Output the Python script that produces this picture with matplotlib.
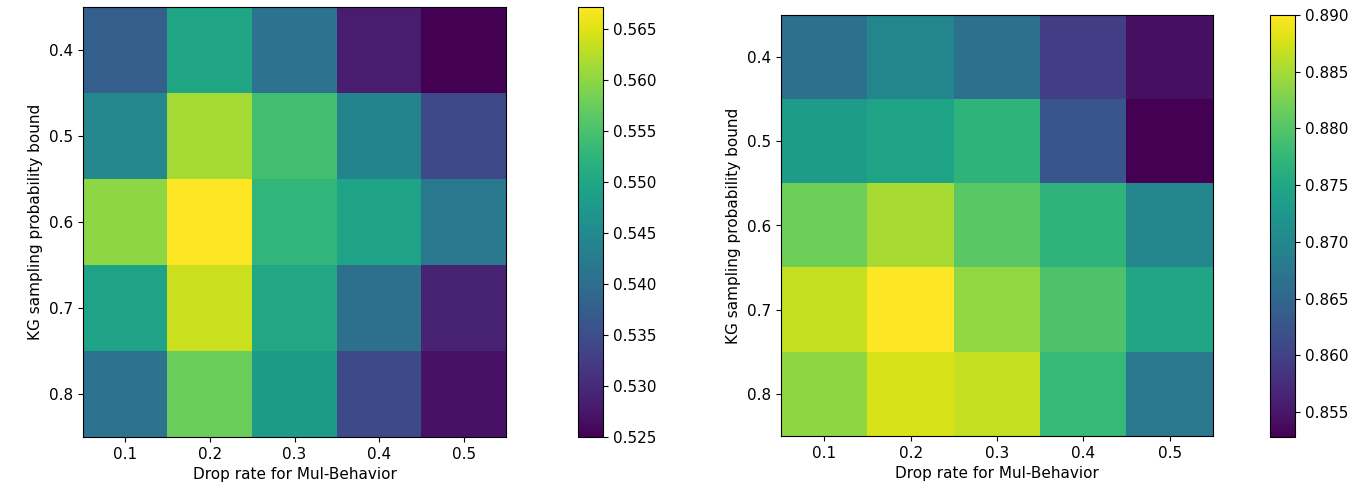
import matplotlib
matplotlib.use("Agg")
import matplotlib.pyplot as plt
import numpy as np

drop_rates = ["0.1", "0.2", "0.3", "0.4", "0.5"]
kg_bounds = ["0.4", "0.5", "0.6", "0.7", "0.8"]

# rows: KG bound 0.4..0.8, cols: drop rate 0.1..0.5
left_vals = [
  [0.5377, 0.5500, 0.5410, 0.5284, 0.5250],
  [0.5448, 0.5615, 0.5545, 0.5440, 0.5343],
  [0.5600, 0.5672, 0.5527, 0.5495, 0.5419],
  [0.5495, 0.5638, 0.5503, 0.5406, 0.5292],
  [0.5410, 0.5575, 0.5480, 0.5343, 0.5270],
]
right_vals = [
  [0.8666, 0.8699, 0.8666, 0.8595, 0.8543],
  [0.8733, 0.8744, 0.8770, 0.8628, 0.8528],
  [0.8818, 0.8852, 0.8805, 0.8770, 0.8699],
  [0.8867, 0.8900, 0.8840, 0.8796, 0.8747],
  [0.8837, 0.8878, 0.8867, 0.8777, 0.8677],
]

W, H = 1366, 496


def px(x0, y0, x1, y1):
  return [x0 / W, 1 - y1 / H, (x1 - x0) / W, (y1 - y0) / H]


def heatmap(ax, cax, vals, ticks):
  data = np.array(vals)
  im = ax.imshow(data, cmap="viridis", aspect="auto")
  ax.set_xticks(range(len(drop_rates)))
  ax.set_xticklabels(drop_rates)
  ax.set_yticks(range(len(kg_bounds)))
  ax.set_yticklabels(kg_bounds)
  ax.set_xlabel("Drop rate for Mul-Behavior", fontsize=11)
  ax.set_ylabel("KG sampling probability bound", fontsize=11)
  ax.tick_params(labelsize=11)
  cb = plt.colorbar(im, cax=cax, ticks=ticks)
  cb.ax.tick_params(labelsize=11)
  cb.ax.yaxis.set_major_formatter(matplotlib.ticker.FormatStrFormatter("%.3f"))
  return im


fig = plt.figure(figsize=(W / 100, H / 100), dpi=100)

ax1 = fig.add_axes(px(83, 7, 506, 437))
cax1 = fig.add_axes(px(578, 7, 603, 437))
heatmap(ax1, cax1, left_vals, np.arange(0.525, 0.5651, 0.005))

ax2 = fig.add_axes(px(781, 15, 1213, 436))
cax2 = fig.add_axes(px(1270, 15, 1295, 437))
heatmap(ax2, cax2, right_vals, np.arange(0.855, 0.8901, 0.005))

fig.savefig("out.png", dpi=100)
